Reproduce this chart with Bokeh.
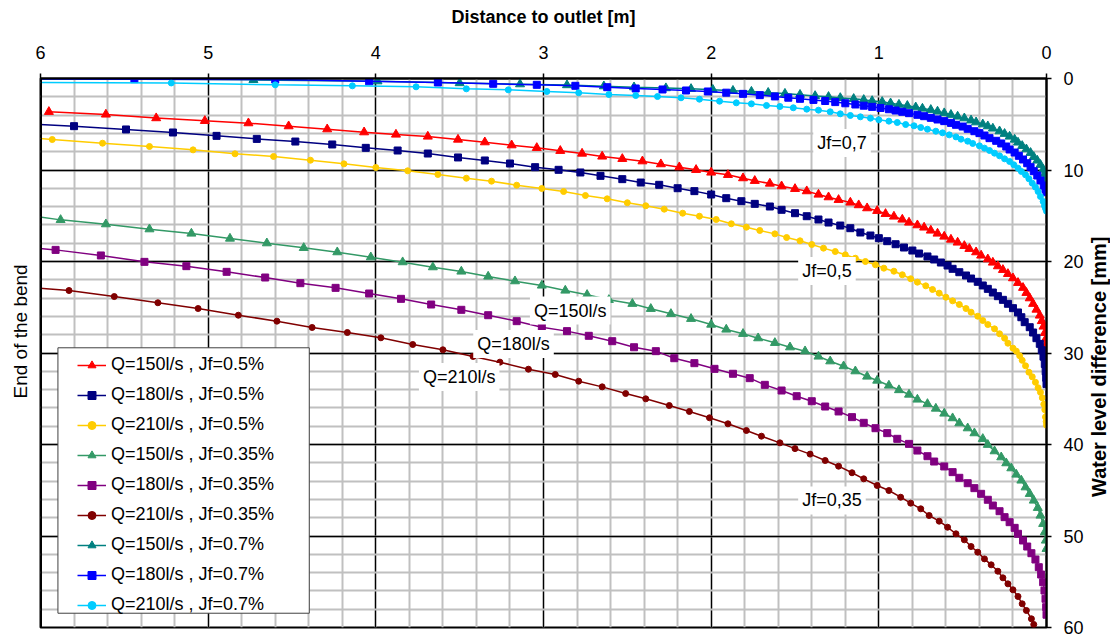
import math
from bokeh.plotting import figure
from bokeh.layouts import row
from bokeh.models import (Range1d, Legend, LegendItem, Label, BoxAnnotation,
                          SingleIntervalTicker, Span, Title)
from bokeh.core.properties import value
from bokeh.embed import file_html
from bokeh.resources import INLINE

# ---------------- data (distance to outlet [m], water level difference [mm]) ----------------
x_150_05 = [5.95, 5.61, 5.31, 5.02, 4.76, 4.52, 4.29, 4.07, 3.88, 3.69, 3.51, 3.35, 3.19, 3.04, 2.90,
            2.77, 2.65, 2.53, 2.41, 2.30, 2.19, 2.09, 2.00, 1.90, 1.81, 1.74, 1.65, 1.58, 1.50, 1.43,
            1.36, 1.30, 1.24, 1.17, 1.12, 1.07, 1.01, 0.96, 0.91, 0.86, 0.82, 0.77, 0.73, 0.69, 0.65,
            0.61, 0.57, 0.53, 0.49, 0.46, 0.42, 0.39, 0.35, 0.32, 0.29, 0.26, 0.23, 0.20, 0.17, 0.14,
            0.12, 0.10, 0.08, 0.06, 0.04, 0.028, 0.018, 0.010, 0.005, 0.002, 0.0]
y_150_05 = [3.64, 3.93, 4.33, 4.63, 4.88, 5.21, 5.54, 5.87, 6.12, 6.34, 6.67, 6.96, 7.29, 7.58, 7.90,
            8.20, 8.52, 8.78, 9.04, 9.36, 9.69, 9.98, 10.27, 10.53, 10.89, 11.18, 11.48, 11.77, 12.06, 12.31,
            12.68, 12.97, 13.26, 13.55, 13.84, 14.17, 14.46, 14.79, 15.08, 15.41, 15.74, 16.03, 16.28, 16.61, 16.94,
            17.27, 17.60, 17.92, 18.29, 18.61, 18.98, 19.34, 19.75, 20.11, 20.51, 20.91, 21.35, 21.82, 22.33, 22.87,
            23.42, 24.01, 24.62, 25.25, 25.90, 26.5, 27.1, 27.8, 28.5, 29.1, 29.8]

x_180_05 = [6.05, 5.80, 5.49, 5.21, 4.95, 4.71, 4.48, 4.26, 4.06, 3.87, 3.69, 3.51, 3.35, 3.20, 3.05,
            2.91, 2.78, 2.66, 2.53, 2.42, 2.31, 2.20, 2.10, 2.00, 1.91, 1.82, 1.74, 1.65, 1.58, 1.50,
            1.43, 1.36, 1.30, 1.23, 1.17, 1.11, 1.05, 1.00, 0.95, 0.90, 0.85, 0.80, 0.76, 0.71, 0.67,
            0.63, 0.59, 0.56, 0.52, 0.48, 0.45, 0.41, 0.38, 0.35, 0.32, 0.29, 0.26, 0.23, 0.20, 0.17,
            0.15, 0.13, 0.10, 0.08, 0.06, 0.04, 0.028, 0.018, 0.010, 0.005, 0.002, 0.0]
y_180_05 = [4.98, 5.21, 5.57, 5.90, 6.27, 6.60, 6.89, 7.21, 7.58, 7.87, 8.20, 8.63, 8.96, 9.29, 9.69,
            9.98, 10.27, 10.64, 11.00, 11.37, 11.62, 11.99, 12.31, 12.68, 13.08, 13.41, 13.70, 13.99, 14.35, 14.72,
            15.05, 15.41, 15.74, 16.07, 16.36, 16.83, 17.16, 17.45, 17.78, 18.11, 18.47, 18.80, 19.13, 19.45, 19.78,
            20.11, 20.44, 20.80, 21.17, 21.53, 21.86, 22.22, 22.62, 22.99, 23.39, 23.79, 24.19, 24.62, 25.10, 25.57,
            26.09, 26.63, 27.18, 27.76, 28.38, 29.00, 29.7, 30.4, 31.2, 32.0, 32.7, 33.4]

x_210_05 = [6.05, 5.93, 5.63, 5.35, 5.09, 4.84, 4.61, 4.39, 4.19, 4.00, 3.81, 3.63, 3.46, 3.31, 3.16,
            3.01, 2.88, 2.75, 2.62, 2.50, 2.39, 2.28, 2.17, 2.07, 1.97, 1.88, 1.79, 1.71, 1.62, 1.55,
            1.47, 1.40, 1.33, 1.26, 1.20, 1.14, 1.08, 1.02, 0.97, 0.91, 0.86, 0.81, 0.77, 0.72, 0.68,
            0.64, 0.60, 0.56, 0.52, 0.48, 0.45, 0.41, 0.38, 0.35, 0.31, 0.28, 0.25, 0.23, 0.20,
            0.18, 0.16, 0.145, 0.125, 0.105, 0.085, 0.066, 0.05, 0.036, 0.025, 0.016, 0.010, 0.006, 0.002, 0.0]
y_210_05 = [6.5, 6.67, 7.07, 7.43, 7.80, 8.23, 8.52, 8.93, 9.33, 9.73, 10.09, 10.49, 10.90, 11.22, 11.66,
            12.02, 12.35, 12.79, 13.15, 13.58, 13.91, 14.28, 14.72, 15.05, 15.41, 15.88, 16.25, 16.61, 16.98, 17.38,
            17.74, 18.14, 18.54, 18.91, 19.27, 19.64, 20.00, 20.36, 20.73, 21.06, 21.45, 21.89, 22.26, 22.66, 23.06,
            23.46, 23.90, 24.30, 24.70, 25.14, 25.54, 25.98, 26.45, 26.89, 27.36, 27.90, 28.38, 28.93, 29.47,
            29.8, 30.3, 30.8, 31.4, 32.1, 32.6, 33.2, 33.8, 34.3, 34.9, 35.6, 36.2, 37.0, 37.5, 37.9]

x_150_035 = [6.05, 5.88, 5.61, 5.35, 5.10, 4.87, 4.65, 4.43, 4.23, 4.03, 3.84, 3.66, 3.49, 3.33, 3.17,
             3.01, 2.87, 2.74, 2.61, 2.47, 2.36, 2.24, 2.12, 2.00, 1.91, 1.81, 1.72, 1.62, 1.53, 1.44,
             1.36, 1.29, 1.21, 1.14, 1.07, 1.01, 0.94, 0.88, 0.82, 0.77, 0.71, 0.66, 0.61, 0.56, 0.52,
             0.47, 0.43, 0.38, 0.35, 0.31, 0.27, 0.24, 0.21, 0.18, 0.15, 0.125, 0.10, 0.076, 0.052, 0.036,
             0.02, 0.01, 0.004, 0.0]
y_150_035 = [15.0, 15.45, 15.92, 16.47, 16.94, 17.49, 18.00, 18.51, 18.98, 19.53, 20.07, 20.62, 21.09, 21.64, 22.15,
             22.62, 23.17, 23.64, 24.19, 24.62, 25.17, 25.72, 26.26, 26.89, 27.43, 27.90, 28.38, 28.89, 29.37, 29.80,
             30.38, 30.90, 31.44, 31.99, 32.57, 33.01, 33.55, 34.05, 34.54, 35.08, 35.56, 36.07, 36.61, 37.12, 37.67,
             38.22, 38.76, 39.38, 40.03, 40.73, 41.39, 42.04, 42.59, 43.28, 43.93, 44.67, 45.39, 46.12, 46.92, 47.76,
             48.67, 49.58, 50.49, 51.4]

x_180_035 = [6.05, 5.91, 5.64, 5.38, 5.13, 4.89, 4.66, 4.45, 4.24, 4.04, 3.85, 3.67, 3.49, 3.33, 3.16,
             3.01, 2.86, 2.73, 2.59, 2.46, 2.33, 2.22, 2.10, 1.98, 1.87, 1.77, 1.68, 1.58, 1.49, 1.40,
             1.32, 1.24, 1.16, 1.09, 1.02, 0.95, 0.89, 0.82, 0.77, 0.71, 0.67, 0.61, 0.56, 0.52, 0.47,
             0.43, 0.39, 0.35, 0.32, 0.28, 0.25, 0.22, 0.19, 0.17, 0.14, 0.115, 0.09, 0.066, 0.046, 0.032,
             0.02, 0.012, 0.006, 0.002, 0.0]
y_180_035 = [18.5, 18.73, 19.34, 20.04, 20.51, 21.13, 21.75, 22.37, 22.88, 23.50, 24.08, 24.70, 25.28, 25.87, 26.52,
             27.18, 27.61, 28.12, 28.71, 29.37, 29.80, 30.57, 31.11, 31.73, 32.27, 32.75, 33.48, 34.10, 34.72, 35.27,
             35.85, 36.39, 37.01, 37.63, 38.22, 38.76, 39.38, 39.93, 40.66, 41.28, 41.86, 42.40, 43.02, 43.64, 44.23,
             44.77, 45.39, 46.04, 46.67, 47.29, 47.94, 48.49, 49.11, 49.76, 50.49, 51.15, 51.88, 52.57, 53.41, 54.21,
             55.05, 55.96, 56.86, 57.78, 58.6]

x_210_035 = [6.05, 5.83, 5.56, 5.30, 5.06, 4.82, 4.59, 4.38, 4.17, 3.97, 3.78, 3.60, 3.42, 3.26, 3.09,
             2.93, 2.79, 2.65, 2.51, 2.39, 2.25, 2.13, 2.01, 1.90, 1.79, 1.70, 1.59, 1.50, 1.41, 1.32,
             1.24, 1.16, 1.09, 1.01, 0.94, 0.87, 0.81, 0.75, 0.70, 0.64, 0.59, 0.54, 0.49, 0.45, 0.41,
             0.37, 0.33, 0.29, 0.26, 0.23, 0.20, 0.17, 0.145, 0.12, 0.09, 0.076]
y_210_035 = [22.85, 23.17, 23.83, 24.51, 25.14, 25.87, 26.52, 27.21, 27.76, 28.34, 29.07, 29.65, 30.38, 31.00, 31.77,
             32.35, 33.08, 33.70, 34.43, 35.01, 35.74, 36.39, 37.08, 37.74, 38.47, 39.09, 39.82, 40.45, 41.05, 41.75,
             42.37, 43.09, 43.75, 44.48, 45.03, 45.76, 46.41, 47.03, 47.76, 48.38, 49.04, 49.76, 50.42, 51.15, 51.77,
             52.50, 53.15, 53.85, 54.57, 55.23, 55.88, 56.61, 57.41, 58.14, 59.05, 59.67]

x_150_07 = [6.05, 4.73, 3.99, 3.50, 3.14, 2.86, 2.64, 2.46, 2.27, 2.12, 1.99, 1.87, 1.76, 1.66, 1.56,
            1.47, 1.38, 1.30, 1.23, 1.15, 1.09, 1.04, 0.98, 0.93, 0.88, 0.83, 0.78, 0.74, 0.69, 0.65,
            0.61, 0.57, 0.53, 0.49, 0.45, 0.42, 0.38, 0.35, 0.32, 0.28, 0.25, 0.22, 0.19, 0.17, 0.145,
            0.12, 0.095, 0.076, 0.055, 0.036, 0.02, 0.01, 0.004, 0.0]
y_150_07 = [0.0, 0.15, 0.30, 0.50, 0.62, 0.72, 0.84, 0.95, 1.05, 1.13, 1.22, 1.33, 1.43, 1.55, 1.65,
            1.77, 1.90, 2.00, 2.12, 2.22, 2.33, 2.45, 2.55, 2.70, 2.85, 2.98, 3.14, 3.28, 3.42, 3.60,
            3.78, 3.96, 4.15, 4.34, 4.57, 4.78, 5.00, 5.21, 5.46, 5.76, 6.04, 6.34, 6.67, 6.99, 7.36,
            7.73, 8.12, 8.56, 8.96, 9.43, 9.95, 10.4, 10.8, 11.1]

x_180_07 = [6.05, 5.44, 4.60, 4.04, 3.63, 3.30, 3.04, 2.81, 2.62, 2.45, 2.29, 2.15, 2.02, 1.91, 1.81,
            1.71, 1.62, 1.54, 1.47, 1.39, 1.32, 1.26, 1.20, 1.14, 1.09, 1.04, 0.99, 0.94, 0.90, 0.86,
            0.82, 0.77, 0.73, 0.69, 0.65, 0.61, 0.57, 0.54, 0.50, 0.47, 0.43, 0.40, 0.37, 0.34, 0.30,
            0.27, 0.24, 0.22, 0.19, 0.165, 0.14, 0.115, 0.095, 0.076, 0.055, 0.036, 0.016, 0.006, 0.0]
y_180_07 = [0.05, 0.07, 0.12, 0.31, 0.44, 0.58, 0.69, 0.80, 0.95, 1.09, 1.20, 1.31, 1.42, 1.55, 1.68,
            1.82, 1.96, 2.10, 2.22, 2.34, 2.46, 2.58, 2.71, 2.84, 2.97, 3.10, 3.22, 3.36, 3.50, 3.64,
            3.79, 3.97, 4.12, 4.30, 4.48, 4.66, 4.85, 5.06, 5.25, 5.50, 5.76, 5.97, 6.23, 6.52, 6.81,
            7.10, 7.43, 7.76, 8.09, 8.45, 8.85, 9.26, 9.69, 10.13, 10.60, 11.15, 11.69, 12.1, 12.43]

x_210_07 = [6.05, 5.22, 4.60, 4.14, 3.76, 3.46, 3.21, 2.98, 2.79, 2.61, 2.45, 2.32, 2.18, 2.07, 1.95,
            1.85, 1.76, 1.67, 1.59, 1.51, 1.43, 1.36, 1.29, 1.23, 1.17, 1.11, 1.05, 1.00, 0.94, 0.89,
            0.84, 0.79, 0.75, 0.71, 0.66, 0.62, 0.58, 0.54, 0.51, 0.47, 0.44, 0.40, 0.37, 0.34, 0.31,
            0.28, 0.25, 0.22, 0.195, 0.17, 0.15, 0.125, 0.105, 0.085, 0.066, 0.05, 0.036, 0.02, 0.012, 0.006, 0.0]
y_210_07 = [0.42, 0.49, 0.69, 0.80, 0.91, 1.13, 1.24, 1.42, 1.56, 1.75, 1.86, 1.97, 2.11, 2.26, 2.48,
            2.66, 2.77, 2.95, 3.06, 3.20, 3.35, 3.46, 3.64, 3.86, 4.04, 4.19, 4.34, 4.52, 4.66, 4.81,
            5.03, 5.17, 5.36, 5.54, 5.76, 5.94, 6.16, 6.38, 6.63, 6.85, 7.10, 7.36, 7.61, 7.87, 8.16,
            8.45, 8.78, 9.07, 9.43, 9.80, 10.16, 10.53, 10.96, 11.44, 11.88, 12.35, 12.90, 13.44, 13.9, 14.2, 14.5]

series_labels = ["Q=150l/s , Jf=0.5%", "Q=180l/s , Jf=0.5%", "Q=210l/s , Jf=0.5%",
                 "Q=150l/s , Jf=0.35%", "Q=180l/s , Jf=0.35%", "Q=210l/s , Jf=0.35%",
                 "Q=150l/s , Jf=0.7%", "Q=180l/s , Jf=0.7%", "Q=210l/s , Jf=0.7%"]
series_x = [x_150_05, x_180_05, x_210_05, x_150_035, x_180_035, x_210_035, x_150_07, x_180_07, x_210_07]
series_y = [y_150_05, y_180_05, y_210_05, y_150_035, y_180_035, y_210_035, y_150_07, y_180_07, y_210_07]

annot_texts = ["Jf=0,7", "Jf=0,5", "Jf=0,35", "Q=150l/s", "Q=180l/s", "Q=210l/s"]
annot_x = [1.391, 1.481, 1.481, 3.081, 3.419, 3.743]
annot_y = [7.05, 21.04, 46.12, 25.36, 29.02, 32.62]

x_title = "Distance to outlet [m]"
y_title = "Water level difference [mm]"
left_title = "End of the bend"

# ---------------- styles ----------------
FONT = "Liberation Sans"
colors = ["#FF0000", "#000080", "#FFCC00", "#339966", "#800080", "#800000", "#008080", "#0000FF", "#00CCFF"]
markers = ["triangle", "square", "circle"] * 3
msizes = [9, 7, 6] * 3

p = figure(width=1086, height=640, x_range=Range1d(6, 0), y_range=Range1d(60, 0),
           x_axis_location="above", y_axis_location="right",
           output_backend="svg", toolbar_location=None,
           min_border_left=40, min_border_right=40, min_border_top=78, min_border_bottom=13)
p.background_fill_color = "white"
p.border_fill_color = "white"
p.outline_line_color = "black"
p.outline_line_width = 2

p.xaxis.ticker = SingleIntervalTicker(interval=1, num_minor_ticks=5)
p.yaxis.ticker = SingleIntervalTicker(interval=10, num_minor_ticks=5)
p.xaxis.axis_label = x_title
for ax in (p.xaxis, p.yaxis):
    ax.axis_label_text_font = FONT
    ax.axis_label_text_font_style = "bold"
    ax.axis_label_text_color = "black"
    ax.major_label_text_font = FONT
    ax.major_label_text_font_size = "18px"
    ax.major_label_text_color = "black"
    ax.axis_line_color = "black"
    ax.axis_line_width = 2
    ax.major_tick_out = 5
    ax.major_tick_in = 0
    ax.major_tick_line_color = "black"
    ax.major_tick_line_width = 1.5
    ax.minor_tick_out = 0
    ax.minor_tick_in = 0
p.xaxis.axis_label_text_font_size = "18px"
p.xaxis.major_label_standoff = 15
p.xaxis.axis_label_standoff = 16
p.yaxis.major_label_standoff = 12

for g in (p.xgrid, p.ygrid):
    g.grid_line_color = "black"
    g.grid_line_width = 1.3
    g.minor_grid_line_color = "#c0c0c0"
    g.minor_grid_line_width = 2

p.add_layout(Span(location=6, dimension="height", line_color="black", line_width=3))

items = []
for lab, xs, ys, c, m, s in zip(series_labels, series_x, series_y, colors, markers, msizes):
    lr = p.line(xs, ys, line_color=c, line_width=1.5)
    sr = p.scatter(xs, ys, marker=m, size=s, fill_color=c, line_color=c)
    items.append(LegendItem(label=lab, renderers=[lr, sr]))

for t, xv, yv in zip(annot_texts, annot_x, annot_y):
    p.add_layout(Label(x=xv, y=yv, text=t, text_font=FONT, text_font_size="18px",
                       text_color="black", text_align="left", text_baseline="middle",
                       background_fill_color="white", background_fill_alpha=1.0, padding=4))

p.add_layout(Title(text=left_title, align="left", offset=229, vertical_align="top",
                   standoff=16, text_font=FONT, text_font_size="19px",
                   text_font_style="normal", text_color="black"), "left")

p.add_layout(BoxAnnotation(left=4.397, right=5.896, top=29.43, bottom=58.44,
                           fill_color="white", fill_alpha=1.0, line_color="#404040",
                           line_width=1, line_alpha=1.0))

legend = Legend(items=items, location=(37, 12), orientation="vertical",
                label_text_font=FONT, label_text_font_size="18px", label_text_color="black",
                glyph_width=29, glyph_height=20, label_height=20, spacing=9, padding=5,
                label_standoff=5, border_line_color=None, background_fill_alpha=0.0)
p.add_layout(legend, "center")

# narrow strip on the right carrying the vertical axis title (reads bottom-to-top)
p2 = figure(width=24, height=640, x_range=Range1d(0, 1), y_range=Range1d(0, 640),
            x_axis_type=None, y_axis_type=None, output_backend="svg", toolbar_location=None,
            min_border=0)
p2.outline_line_color = None
p2.background_fill_color = "white"
p2.border_fill_color = "white"
p2.xgrid.visible = False
p2.ygrid.visible = False
p2.text(x=[0.5], y=[304], text=[y_title], angle=math.pi / 2,
        text_font=value(FONT), text_font_size=value("20px"), text_font_style="bold",
        text_color="black", text_align="center", text_baseline="middle")

layout = row(p, p2, spacing=0)
open("out.html", "w").write(file_html(layout, INLINE))
